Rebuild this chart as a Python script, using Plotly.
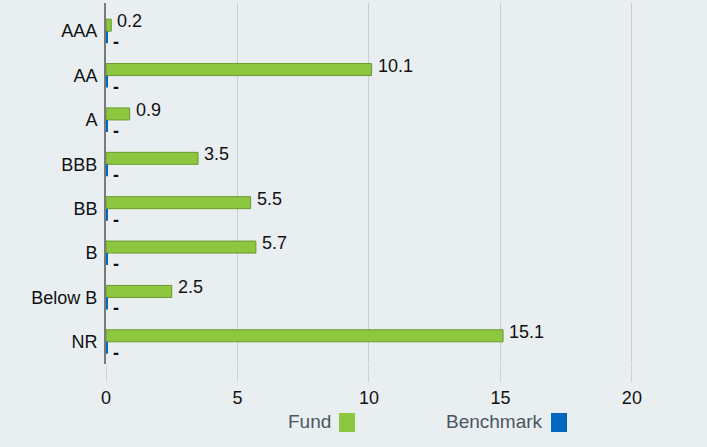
import plotly.graph_objects as go

categories = ["AAA", "AA", "A", "BBB", "BB", "B", "Below B", "NR"]
fund_values = [0.2, 10.1, 0.9, 3.5, 5.5, 5.7, 2.5, 15.1]
benchmark_values = [0.05] * 8
benchmark_labels = ["-"] * 8
x_ticks = [0, 5, 10, 15, 20]

GREEN = "#8dc63f"
GREEN_EDGE = "#6b9a2c"
BLUE = "#0069bf"
BG = "#e9eef1"
FONT = "Liberation Sans, Arial, sans-serif"

W, H = 707, 447
ML, MR, MT, MB = 106, 12, 3, 83
BARGAP = 0.46

fig = go.Figure()
fig.add_trace(go.Bar(
    y=categories, x=fund_values, orientation="h", name="Fund",
    marker=dict(color=GREEN, line=dict(color=GREEN_EDGE, width=1)),
    showlegend=False, hoverinfo="x+y",
))
fig.add_trace(go.Bar(
    y=categories, x=benchmark_values, orientation="h", name="Benchmark",
    marker=dict(color=BLUE, line=dict(width=0)),
    showlegend=False, hoverinfo="y",
))

# value labels, placed at each bar's end (data coordinates)
half = (1 - BARGAP) / 4
for i, (v, b, bl) in enumerate(zip(fund_values, benchmark_values, benchmark_labels)):
    fig.add_annotation(x=v, y=i - half, xref="x", yref="y", text=f"{v:.1f}", showarrow=False,
                       xanchor="left", yanchor="middle", xshift=4, yshift=4,
                       font=dict(size=18, color="#111", family=FONT))
    fig.add_annotation(x=b, y=i + half, xref="x", yref="y", text=bl, showarrow=False,
                       xanchor="left", yanchor="middle", xshift=4, yshift=-5,
                       font=dict(size=18, color="#111", family=FONT, weight="bold"))

fig.update_layout(
    width=W, height=H,
    margin=dict(l=ML, r=MR, t=MT, b=MB, autoexpand=False),
    paper_bgcolor=BG, plot_bgcolor=BG,
    barmode="group", bargap=BARGAP, bargroupgap=0.0,
    font=dict(family=FONT, size=18, color="#111"),
)
fig.update_xaxes(
    range=[0, 22.4], tickvals=x_ticks, showgrid=True, gridcolor="#cbced1", gridwidth=1,
    zeroline=False, ticks="outside", ticklen=17, tickcolor="#d0d3d5",
    tickfont=dict(size=18, color="#111"), showline=False, automargin=False,
)
fig.update_yaxes(
    range=[7.5, -0.635], showline=True, linecolor="#7a7a7a", linewidth=2,
    layer="below traces",
    ticks="", ticklabelstandoff=3, tickfont=dict(size=18, color="#111"), automargin=False,
)

def px_to_paper_x(px):
    return (px - ML) / (W - ML - MR)

def px_to_paper_y(py):
    return (H - MB - py) / (H - MB - MT)

# legend (text followed by colour square)
for label, right_px, sq0, col in [("Fund", 331, 339, GREEN), ("Benchmark", 543, 551, BLUE)]:
    fig.add_annotation(x=px_to_paper_x(right_px + 2), y=px_to_paper_y(421), xref="paper", yref="paper",
                       text=label, showarrow=False, font=dict(size=19, color="#4b5661", family=FONT),
                       xanchor="right", yanchor="middle")
    fig.add_shape(type="rect", xref="paper", yref="paper",
                  x0=px_to_paper_x(sq0), x1=px_to_paper_x(sq0 + 16),
                  y0=px_to_paper_y(432), y1=px_to_paper_y(413),
                  fillcolor=col, line=dict(width=0))

fig.write_html("out.html", config={"displayModeBar": False},
               post_script="document.body.style.margin='0px';document.body.style.overflow='hidden';")
